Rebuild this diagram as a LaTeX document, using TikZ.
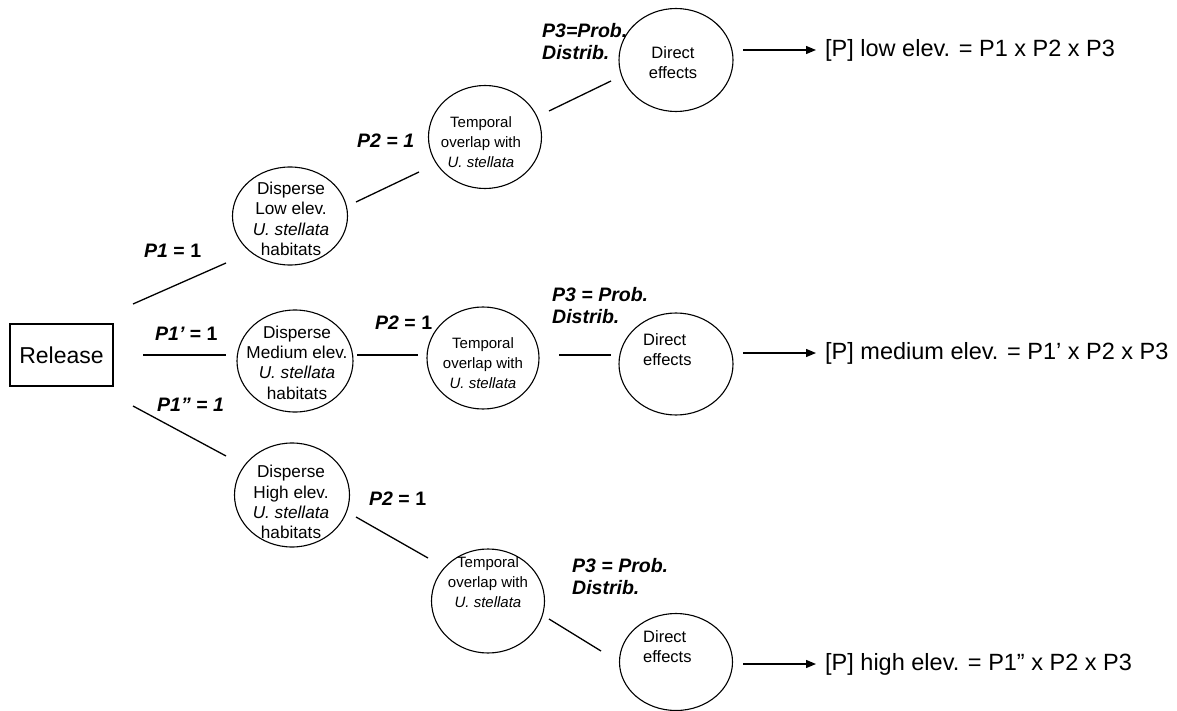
\documentclass[tikz,border=0pt]{standalone}
\usepackage{fontspec}
\setmainfont{Liberation Sans}
\usetikzlibrary{shapes.geometric,arrows.meta}
\begin{document}
\begin{tikzpicture}[x=1pt,y=-1pt,
  ell/.style={draw, ellipse, line width=1.1pt, inner sep=0pt},
  ntxt/.style={align=center, inner sep=0pt, font=\fontsize{17.2}{20.3}\selectfont},
  dtxt/.style={align=center, inner sep=0pt, font=\fontsize{16.5}{20}\selectfont},
  ltxt/.style={align=left, anchor=west, inner sep=0pt, font=\fontsize{16.5}{20}\selectfont},
  ttxt/.style={align=center, inner sep=0pt, font=\fontsize{15}{20}\selectfont},
  lab/.style={inner sep=0pt, anchor=west, align=left, font=\fontsize{19.5}{22.5}\selectfont\bfseries},
  res/.style={inner sep=0pt, anchor=west, font=\fontsize{23.5}{28}\selectfont},
  conn/.style={line width=1.3pt},
  arr/.style={line width=1.3pt, -{Triangle[length=10pt,width=8pt]}, shorten >=9pt}
]
\useasboundingbox (0,0) rectangle (1177,711);

% Release box
\node[draw, line width=1.1pt, minimum width=103pt, minimum height=62pt, inner sep=0pt,
      font=\fontsize{23}{28}\selectfont] (rel) at (61.5,355) {Release};

% ellipses
\node[ell, minimum width=115pt, minimum height=98pt]  (dlow)  at (290,216) {};
\node[ell, minimum width=116pt, minimum height=102pt] (dmed)  at (295,361) {};
\node[ell, minimum width=115pt, minimum height=104pt] (dhigh) at (292,495) {};
\node[ell, minimum width=113pt, minimum height=103pt] (ttop)  at (485,137) {};
\node[ell, minimum width=112pt, minimum height=102pt] (tmed)  at (483,358) {};
\node[ell, minimum width=113pt, minimum height=104pt] (thigh) at (488,601) {};
\node[ell, minimum width=114pt, minimum height=103pt] (etop)  at (676,60) {};
\node[ell, minimum width=114pt, minimum height=102pt] (emed)  at (676,364) {};
\node[ell, minimum width=113pt, minimum height=97pt]  (ehigh) at (676,662) {};

% texts inside ellipses
\node[ntxt] (dlowt)  at (291,219)   {Disperse\\Low elev.\\\textit{U. stellata}\\habitats};
\node[ntxt] (dmedt)  at (297,362.5) {Disperse\\Medium elev.\\\textit{U. stellata}\\habitats};
\node[ntxt] (dhight) at (291,502)   {Disperse\\High elev.\\\textit{U. stellata}\\habitats};
\node[ttxt] (ttopt)  at (481,142) {Temporal\\overlap with\\\textit{U. stellata}};
\node[ttxt] (tmedt)  at (483,363) {Temporal\\overlap with\\\textit{U. stellata}};
\node[ttxt] (thight) at (488,582) {Temporal\\overlap with\\\textit{U. stellata}};
\node[dtxt] (etopt)  at (673,63) {Direct\\effects};
\node[ltxt] (emedt)  at (643,349.5) {Direct\\effects};
\node[ltxt] (ehight) at (643,646.5) {Direct\\effects};

% probability labels
\node[lab] (l1)  at (144,251) {\itshape P1\upshape\ = 1};
\node[lab] (l2)  at (155,334) {\itshape P1’\upshape\ = 1};
\node[lab] (l3)  at (157,405) {\itshape P1” = 1};
\node[lab] (l4)  at (357,141) {\itshape P2 = 1};
\node[lab] (l5)  at (542,41.5) {\itshape P3=Prob.\\\itshape Distrib.};
\node[lab] (l6)  at (375,323) {\itshape P2\upshape\ = 1};
\node[lab] (l7)  at (552,305.5) {\itshape P3 = Prob.\\\itshape Distrib.};
\node[lab] (l8)  at (369,499) {\itshape P2\upshape\ = 1};
\node[lab] (l9)  at (572,576.5) {\itshape P3 = Prob.\\\itshape Distrib.};

% results
\node[res] (r1) at (825,50)  {[P] low elev. = P1 x P2 x P3};
\node[res] (r2) at (825,353) {[P] medium elev. = P1’ x P2 x P3};
\node[res] (r3) at (825,664) {[P] high elev. = P1” x P2 x P3};

% connector end points
\coordinate (c1a) at (133,304); \coordinate (c1b) at (226,263);
\coordinate (c2a) at (143,355); \coordinate (c2b) at (226,355);
\coordinate (c3a) at (133,406); \coordinate (c3b) at (226,456);
\coordinate (c4a) at (356,202); \coordinate (c4b) at (419,172);
\coordinate (c5a) at (549,111); \coordinate (c5b) at (611,81);
\coordinate (c6a) at (357,355); \coordinate (c6b) at (418,355);
\coordinate (c7a) at (559,355); \coordinate (c7b) at (611,355);
\coordinate (c8a) at (356,517); \coordinate (c8b) at (428,558);
\coordinate (c9a) at (549,619); \coordinate (c9b) at (601,651);
\coordinate (a1) at (743,50);
\coordinate (a2) at (743,353);
\coordinate (a3) at (743,664);

\draw[conn] (c1a) -- (c1b);
\draw[conn] (c2a) -- (c2b);
\draw[conn] (c3a) -- (c3b);
\draw[conn] (c4a) -- (c4b);
\draw[conn] (c5a) -- (c5b);
\draw[conn] (c6a) -- (c6b);
\draw[conn] (c7a) -- (c7b);
\draw[conn] (c8a) -- (c8b);
\draw[conn] (c9a) -- (c9b);
\draw[arr] (a1) -- (r1.west);
\draw[arr] (a2) -- (r2.west);
\draw[arr] (a3) -- (r3.west);
\end{tikzpicture}
\end{document}
